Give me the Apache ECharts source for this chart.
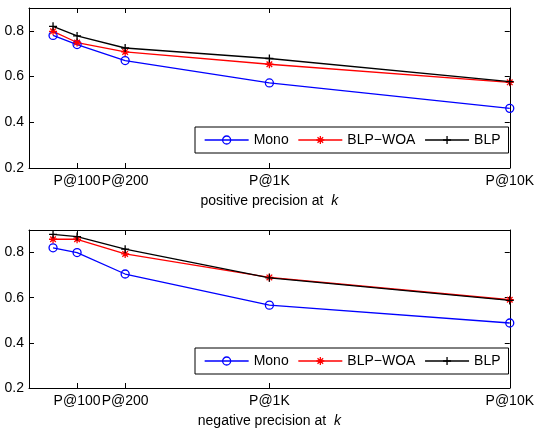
<!DOCTYPE html>
<html>
<head>
<meta charset="utf-8">
<script src="https://cdn.jsdelivr.net/npm/echarts@6/dist/echarts.min.js"></script>
<style>
html,body{margin:0;padding:0;background:#fff;}
#c{width:537px;height:429px;}
</style>
</head>
<body>
<div id="c"></div>
<script>
// x positions of the five k values on the plot's linear axis
const xPos = [0.5, 1, 2, 5, 10];
const tickValues = [1, 2, 5, 10];
const tickLabels = ['P@100', 'P@200', 'P@1K', 'P@10K'];
const yTicks = [0.2, 0.4, 0.6, 0.8];
const seriesNames = ['Mono', 'BLP\u2212WOA', 'BLP'];

// positive precision at k
const posMono = [0.780, 0.740, 0.670, 0.572, 0.461];
const posWOA  = [0.798, 0.749, 0.708, 0.654, 0.575];
const posBLP  = [0.820, 0.778, 0.725, 0.679, 0.578];
// negative precision at k
const negMono = [0.821, 0.800, 0.705, 0.567, 0.488];
const negWOA  = [0.859, 0.859, 0.794, 0.690, 0.591];
const negBLP  = [0.881, 0.871, 0.815, 0.688, 0.588];

const FONT = 'Liberation Sans, Arial, Helvetica, sans-serif';
const PLUS = 'path://M0,5L10,5M5,0L5,10';
const STAR = 'path://M0,5L10,5M5,0L5,10M1.5,1.5L8.5,8.5M8.5,1.5L1.5,8.5';

function pair(vals){ return xPos.map((x,i)=>[x, vals[i]]); }

function xAxes(gi, title){
  const labelMap = {};
  tickValues.forEach((v,i)=>labelMap[v]=tickLabels[i]);
  return [{
    type:'value', gridIndex:gi, min:0, max:10, position:'bottom',
    axisLine:{show:true, onZero:false, lineStyle:{color:'#000', width:1}},
    axisTick:{show:true, inside:true, length:5, customValues:tickValues, lineStyle:{color:'#000'}},
    axisLabel:{show:true, customValues:tickValues, margin:6, color:'#000', fontFamily:FONT, fontSize:14,
      formatter:(v)=>labelMap[v] || ''},
    splitLine:{show:false},
    name:'{a|' + title + ' precision at  }{b|k}',
    nameLocation:'middle', nameGap:26,
    nameTextStyle:{rich:{
      a:{fontFamily:FONT, fontSize:14, color:'#000'},
      b:{fontFamily:FONT, fontSize:14, color:'#000', fontStyle:'italic'}
    }}
  },{
    type:'value', gridIndex:gi, min:0, max:10, position:'top',
    axisLine:{show:true, onZero:false, lineStyle:{color:'#000', width:1}},
    axisTick:{show:true, inside:true, length:5, customValues:tickValues, lineStyle:{color:'#000'}},
    axisLabel:{show:false}, splitLine:{show:false}
  }];
}
function yAxes(gi){
  return [{
    type:'value', gridIndex:gi, min:0.2, max:0.9, position:'left',
    axisLine:{show:true, onZero:false, lineStyle:{color:'#000', width:1}},
    axisTick:{show:true, inside:true, length:5, customValues:yTicks, lineStyle:{color:'#000'}},
    axisLabel:{show:true, customValues:yTicks, margin:5, color:'#000', fontFamily:FONT, fontSize:14,
      formatter:(v)=>v.toFixed(1)},
    splitLine:{show:false}
  },{
    type:'value', gridIndex:gi, min:0.2, max:0.9, position:'right',
    axisLine:{show:true, onZero:false, lineStyle:{color:'#000', width:1}},
    axisTick:{show:true, inside:true, length:5, customValues:yTicks, lineStyle:{color:'#000'}},
    axisLabel:{show:false}, splitLine:{show:false}
  }];
}
function mkSeries(name, vals, gi, color, symbol){
  const isCircle = symbol === 'circle';
  return {
    type:'line', name:name, xAxisIndex:gi*2, yAxisIndex:gi*2, data:pair(vals),
    symbol:symbol, symbolSize:8, showSymbol:true,
    lineStyle:{color:color, width:1.3},
    itemStyle:{color: isCircle ? 'rgba(255,255,255,0)' : color, borderColor:color, borderWidth:1.3},
    emphasis:{disabled:true}, animation:false
  };
}
function legend(top){
  return {
    left:195, top:top, orient:'horizontal',
    data:seriesNames,
    itemWidth:44, itemHeight:10, itemGap:9,
    padding:[6,8,6,9],
    borderColor:'#000', borderWidth:1, backgroundColor:'#fff',
    textStyle:{fontFamily:FONT, fontSize:14, color:'#000'},
    itemStyle:{borderWidth:1.3},
    lineStyle:{width:1.3},
    selectedMode:false
  };
}

const chart = echarts.init(document.getElementById('c'), null, {renderer:'canvas'});
chart.setOption({
  backgroundColor:'#fff',
  animation:false,
  grid:[
    {left:29, top:8, width:483, height:160},
    {left:29, top:230, width:483, height:159}
  ],
  xAxis:[...xAxes(0,'positive'), ...xAxes(1,'negative')],
  yAxis:[...yAxes(0), ...yAxes(1)],
  legend:[legend(127), legend(348)],
  series:[
    mkSeries(seriesNames[0], posMono, 0, '#0000ff', 'circle'),
    mkSeries(seriesNames[1], posWOA, 0, '#ff0000', STAR),
    mkSeries(seriesNames[2], posBLP, 0, '#000000', PLUS),
    mkSeries(seriesNames[0], negMono, 1, '#0000ff', 'circle'),
    mkSeries(seriesNames[1], negWOA, 1, '#ff0000', STAR),
    mkSeries(seriesNames[2], negBLP, 1, '#000000', PLUS)
  ]
});
</script>
</body>
</html>
